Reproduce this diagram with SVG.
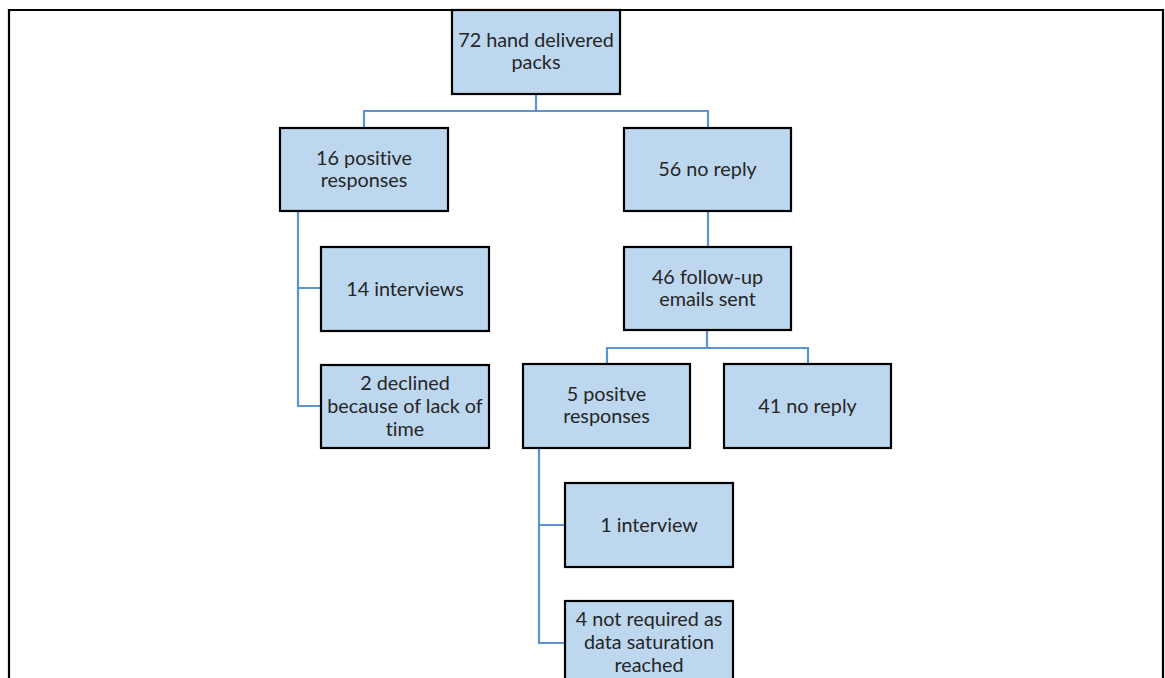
<svg xmlns="http://www.w3.org/2000/svg" width="1165" height="678" viewBox="0 0 1165 678">
<style>
.box{fill:#BDD7EE;stroke:#000;stroke-width:2.2}
.t{font-family:Lato,"Open Sans","Liberation Sans",sans-serif;font-size:19.8px;fill:#262626;text-anchor:middle;font-variant-ligatures:none;font-feature-settings:"liga" 0}
.c{fill:none;stroke:#5B94CF;stroke-width:2.2}
</style>
<rect width="1165" height="678" fill="#fff"/>
<path d="M9,690 V10 H1163 V690" fill="none" stroke="#000" stroke-width="2.2"/>
<g id="connectors">
<path class="c" d="M536,94 V111 M364,128 V111 H708 V128"/>
<path class="c" d="M298,211 V406 H321 M298,288 H321"/>
<path class="c" d="M708,211 V247"/>
<path class="c" d="M707,330 V348 M607,364 V348 H808 V364"/>
<path class="c" d="M539,448 V643 H565 M539,525 H565"/>
</g>
<g id="n72"><rect class="box" x="452" y="10" width="168" height="84"/><text class="t" x="536" y="46.5">72 hand delivered</text><text class="t" x="536" y="69">packs</text></g>
<g id="n16"><rect class="box" x="280" y="128" width="168" height="83"/><text class="t" x="364" y="164.5">16 positive</text><text class="t" x="364" y="187">responses</text></g>
<g id="n56"><rect class="box" x="624" y="128" width="167" height="83"/><text class="t" x="707.5" y="176">56 no reply</text></g>
<g id="n14"><rect class="box" x="321" y="247" width="168" height="84"/><text class="t" x="405" y="295.5">14 interviews</text></g>
<g id="n46"><rect class="box" x="624" y="247" width="167" height="83"/><text class="t" x="707.5" y="283.5">46 follow-up</text><text class="t" x="707.5" y="306">emails sent</text></g>
<g id="n2"><rect class="box" x="321" y="365" width="168" height="83"/><text class="t" x="405" y="389.5">2 declined</text><text class="t" x="405" y="412.5">because of lack of</text><text class="t" x="405" y="435.5">time</text></g>
<g id="n5"><rect class="box" x="523" y="364" width="167" height="84"/><text class="t" x="606.5" y="400.5">5 positve</text><text class="t" x="606.5" y="423">responses</text></g>
<g id="n41"><rect class="box" x="724" y="364" width="167" height="84"/><text class="t" x="807.5" y="412.5">41 no reply</text></g>
<g id="n1"><rect class="box" x="565" y="483" width="168" height="84"/><text class="t" x="649" y="531.5">1 interview</text></g>
<g id="n4"><rect class="box" x="565" y="601" width="168" height="84"/><text class="t" x="649" y="625.5">4 not required as</text><text class="t" x="649" y="648.5">data saturation</text><text class="t" x="649" y="671.5">reached</text></g>
</svg>
